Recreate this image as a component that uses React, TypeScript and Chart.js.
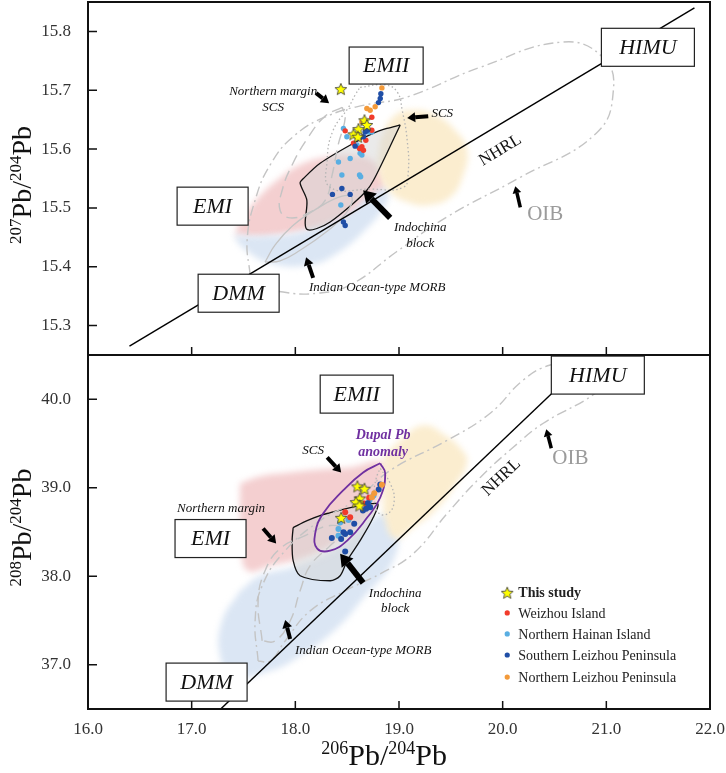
import React, { useEffect, useRef } from 'react';
import { Chart, registerables } from 'chart.js';

type Pt = [number, number];

// soft (blurred) fills for the source fields; registered before the Filler so it wraps the fill
const softFieldPlugin = {
  id: 'softFieldBlur',
  beforeDatasetDraw(chart: any, args: any) {
    const ds = chart.data.datasets[args.index];
    if (ds && ds.soft) { chart.ctx.save(); chart.ctx.filter = 'blur(3px)'; }
  },
  afterDatasetDraw(chart: any, args: any) {
    const ds = chart.data.datasets[args.index];
    if (ds && ds.soft) chart.ctx.restore();
  },
};
Chart.register(softFieldPlugin as any);
Chart.register(...registerables);

const SERIF = '"Liberation Serif", "Times New Roman", serif';

// ---------- axes ----------
const X_RANGE: Pt = [16, 22];
const X_TICKS = [16, 17, 18, 19, 20, 21, 22];
const TOP_Y_RANGE: Pt = [15.25, 15.85];
const TOP_Y_TICKS = [15.3, 15.4, 15.5, 15.6, 15.7, 15.8];
const BOTTOM_Y_RANGE: Pt = [36.5, 40.5];
const BOTTOM_Y_TICKS = [37, 38, 39, 40];

// ---------- series ----------
const SERIES_LABELS = ['This study', 'Weizhou Island', 'Northern Hainan Island', 'Southern Leizhou Peninsula', 'Northern Leizhou Peninsula'];
const SERIES_COLORS = ['#ffff00', '#f23b2b', '#59aee2', '#1f4ea6', '#f39a3a'];

// 206Pb/204Pb vs 207Pb/204Pb
const TOP_STARS: Pt[] = [[18.439, 15.702], [18.667, 15.649], [18.690, 15.641], [18.609, 15.634], [18.561, 15.625], [18.603, 15.621]];
const TOP_WEIZHOU: Pt[] = [[18.738, 15.654], [18.738, 15.632], [18.642, 15.604], [18.657, 15.598], [18.680, 15.615], [18.619, 15.601], [18.561, 15.610], [18.481, 15.631]];
const TOP_N_HAINAN: Pt[] = [[18.464, 15.635], [18.497, 15.621], [18.529, 15.584], [18.416, 15.578], [18.449, 15.556], [18.619, 15.556], [18.630, 15.553], [18.439, 15.505], [18.706, 15.629], [18.625, 15.593], [18.642, 15.590], [18.594, 15.607], [18.625, 15.601], [18.738, 15.629]];
const TOP_S_LEIZHOU: Pt[] = [[18.825, 15.694], [18.819, 15.686], [18.802, 15.679], [18.674, 15.629], [18.696, 15.632], [18.577, 15.605], [18.449, 15.533], [18.529, 15.523], [18.358, 15.523], [18.464, 15.476], [18.481, 15.470], [18.657, 15.621]];
const TOP_N_LEIZHOU: Pt[] = [[18.835, 15.704], [18.690, 15.669], [18.722, 15.666], [18.770, 15.672], [18.642, 15.646]];

const TOP_NHRL: Pt[] = [[16.40, 15.265], [21.85, 15.840]];
const TOP_PINK: Pt[] = [[17.419, 15.454], [17.467, 15.476], [17.641, 15.517], [17.853, 15.551], [18.046, 15.573], [18.288, 15.586], [18.529, 15.590], [18.741, 15.581], [18.847, 15.556], [18.847, 15.522], [18.722, 15.496], [18.336, 15.471], [17.950, 15.457], [17.612, 15.450]];
const TOP_BLUE: Pt[] = [[17.400, 15.454], [17.496, 15.432], [17.757, 15.406], [18.143, 15.403], [18.403, 15.423], [18.654, 15.459], [18.867, 15.505], [18.896, 15.534], [18.722, 15.522], [18.481, 15.488], [18.046, 15.459], [17.660, 15.452]];
const TOP_YELLOW: Pt[] = [[18.819, 15.615], [18.934, 15.653], [19.108, 15.666], [19.349, 15.658], [19.542, 15.632], [19.658, 15.598], [19.610, 15.551], [19.494, 15.518], [19.301, 15.505], [19.108, 15.508], [18.915, 15.527], [18.803, 15.564]];
const TOP_INDOCHINA: Pt[] = [[19.012, 15.641], [18.883, 15.593], [18.754, 15.547], [18.690, 15.530], [18.561, 15.508], [18.336, 15.476], [18.208, 15.465], [18.117, 15.463], [18.095, 15.474], [18.111, 15.513], [18.046, 15.542], [18.078, 15.550], [18.239, 15.576], [18.561, 15.610], [18.754, 15.627], [18.883, 15.635]];
const TOP_SCS: Pt[] = [[18.625, 15.705], [18.867, 15.709], [18.983, 15.697], [19.031, 15.666], [19.079, 15.615], [19.089, 15.561], [19.041, 15.535], [18.722, 15.532], [18.336, 15.535], [18.307, 15.581], [18.365, 15.632], [18.510, 15.670], [18.577, 15.692]];
const TOP_OIB: Pt[] = [[17.564, 15.386], [17.535, 15.445], [17.612, 15.513], [17.757, 15.573], [17.998, 15.624], [18.336, 15.658], [18.674, 15.675], [19.069, 15.688], [19.784, 15.739], [20.585, 15.782], [20.971, 15.755], [21.068, 15.700], [20.903, 15.627], [20.170, 15.552], [19.456, 15.484], [18.973, 15.425], [18.529, 15.369], [18.211, 15.355], [17.882, 15.357], [17.631, 15.370]];
const TOP_N_MARGIN: Pt[] = [[18.452, 15.671], [18.288, 15.656], [18.124, 15.620], [17.969, 15.573], [17.873, 15.530], [17.853, 15.496], [17.950, 15.483], [18.143, 15.493], [18.288, 15.513], [18.355, 15.556], [18.413, 15.607], [18.481, 15.653]];
const TOP_MORB_OUTLINE: Pt[] = [[17.708, 15.408], [17.805, 15.437], [17.969, 15.469], [18.220, 15.500], [18.452, 15.520], [18.548, 15.517], [18.490, 15.491], [18.297, 15.459], [18.046, 15.428], [17.853, 15.410]];

// 206Pb/204Pb vs 208Pb/204Pb
const BOT_STARS: Pt[] = [[18.599, 39.015], [18.667, 38.989], [18.621, 38.879], [18.584, 38.837], [18.618, 38.799], [18.442, 38.660]];
const BOT_WEIZHOU: Pt[] = [[18.481, 38.723], [18.712, 38.887], [18.529, 38.667], [18.664, 38.822]];
const BOT_N_HAINAN: Pt[] = [[18.416, 38.535], [18.513, 38.637], [18.715, 38.856], [18.754, 38.913], [18.416, 38.459], [18.432, 38.607]];
const BOT_S_LEIZHOU: Pt[] = [[18.819, 39.037], [18.804, 38.981], [18.722, 38.780], [18.683, 38.762], [18.700, 38.825], [18.568, 38.592], [18.529, 38.497], [18.481, 38.478], [18.442, 38.422], [18.352, 38.433], [18.481, 38.281], [18.652, 38.743], [18.464, 38.497]];
const BOT_N_LEIZHOU: Pt[] = [[18.835, 39.034], [18.761, 38.939], [18.738, 38.893]];

const BOT_NHRL: Pt[] = [[17.28, 36.5], [20.6, 40.205]];
const BOT_PINK: Pt[] = [[17.467, 39.049], [17.660, 39.128], [17.950, 39.173], [18.239, 39.207], [18.529, 39.230], [18.847, 39.287], [18.867, 39.083], [18.770, 38.799], [18.625, 38.573], [18.336, 38.346], [18.046, 38.198], [17.757, 38.119], [17.544, 38.062], [17.477, 38.289], [17.467, 38.743]];
const BOT_BLUE: Pt[] = [[17.467, 37.836], [17.660, 38.006], [18.017, 38.119], [18.432, 38.346], [18.847, 38.709], [18.983, 38.550], [18.944, 38.176], [18.674, 37.779], [18.403, 37.416], [18.046, 37.099], [17.757, 36.929], [17.400, 36.872], [17.274, 37.099], [17.293, 37.495]];
const BOT_YELLOW: Pt[] = [[18.847, 39.344], [19.012, 39.536], [19.234, 39.706], [19.446, 39.593], [19.610, 39.423], [19.658, 39.287], [19.542, 39.026], [19.349, 38.743], [19.137, 38.550], [18.963, 38.425], [18.867, 38.629], [18.847, 38.969]];
const BOT_INDOCHINA: Pt[] = [[17.979, 38.550], [18.114, 38.629], [18.307, 38.709], [18.789, 38.822], [18.751, 38.663], [18.625, 38.402], [18.500, 38.176], [18.432, 38.006], [18.336, 37.949], [18.046, 38.006], [17.979, 38.176], [17.969, 38.402]];
const BOT_DUPAL: Pt[] = [[18.819, 39.276], [18.867, 39.162], [18.819, 38.890], [18.693, 38.663], [18.500, 38.402], [18.336, 38.289], [18.211, 38.312], [18.191, 38.482], [18.268, 38.709], [18.461, 38.969], [18.654, 39.173]];
const BOT_SCS: Pt[] = [[18.819, 39.219], [18.915, 39.049], [18.954, 38.856], [18.896, 38.709], [18.799, 38.720], [18.761, 38.913], [18.780, 39.105]];
const BOT_OIB: Pt[] = [[17.641, 37.042], [17.612, 37.495], [17.680, 37.892], [17.902, 38.289], [18.239, 38.629], [18.577, 38.856], [18.915, 39.196], [19.465, 39.536], [19.880, 39.842], [20.199, 40.217], [20.459, 40.387], [20.797, 40.443], [21.087, 40.330], [20.894, 40.069], [20.392, 39.729], [20.102, 39.457], [19.784, 39.117], [19.465, 38.709], [19.137, 38.255], [18.819, 38.028], [18.481, 37.836], [18.143, 37.609], [17.902, 37.269], [17.757, 37.042]];
const BOT_N_MARGIN: Pt[] = [[17.680, 37.269], [17.641, 37.722], [17.708, 38.062], [17.853, 38.312], [18.095, 38.459], [18.336, 38.573], [18.481, 38.516], [18.336, 38.346], [18.143, 38.119], [18.046, 37.836], [17.950, 37.495], [17.805, 37.269]];

// ---------- annotations (data coordinates) ----------
type Box = { x: number; y: number; w: number; h: number; text: string };
type Label = { x: number; y: number; text: string; font: string; color?: string };
type Arrow = [number, number, number, number, number];
interface Spec {
  boxes: Box[]; labels: Label[]; arrows: Arrow[]; nhrl: Pt[]; nhrlLabel: Pt;
  yTicks: number[]; yTitle: [string, Pt]; xTitle?: [string, number]; legend?: boolean;
}
const IT = `italic 13px ${SERIF}`;
const OIB_FONT = `21px ${SERIF}`;
const DUPAL_FONT = `italic bold 14px ${SERIF}`;

const TOP_SPEC: Spec = {
  boxes: [
    { x: 18.876, y: 15.742, w: 74, h: 37, text: 'EMII' },
    { x: 21.401, y: 15.773, w: 93, h: 38, text: 'HIMU' },
    { x: 17.202, y: 15.503, w: 71, h: 38, text: 'EMI' },
    { x: 17.453, y: 15.355, w: 81, h: 38, text: 'DMM' },
  ],
  labels: [
    { x: 17.786, y: 15.697, text: 'Northern margin', font: IT },
    { x: 17.786, y: 15.671, text: 'SCS', font: IT },
    { x: 19.417, y: 15.660, text: 'SCS', font: IT },
    { x: 19.205, y: 15.466, text: 'Indochina', font: IT },
    { x: 19.205, y: 15.440, text: 'block', font: IT },
    { x: 18.790, y: 15.365, text: 'Indian Ocean-type MORB', font: IT },
    { x: 20.411, y: 15.488, text: 'OIB', font: OIB_FONT, color: '#9b9b9b' },
  ],
  arrows: [
    [18.201, 15.695, 18.326, 15.678, 4],
    [19.282, 15.656, 19.079, 15.653, 4],
    [18.915, 15.483, 18.654, 15.530, 6],
    [18.172, 15.381, 18.104, 15.416, 4],
    [20.170, 15.501, 20.122, 15.537, 3.5],
  ],
  nhrl: TOP_NHRL,
  nhrlLabel: [19.977, 15.598],
  yTicks: TOP_Y_TICKS,
  yTitle: ['207', [22, 15.539]],
};

const BOTTOM_SPEC: Spec = {
  boxes: [
    { x: 18.592, y: 40.058, w: 73, h: 38, text: 'EMII' },
    { x: 20.918, y: 40.273, w: 93, h: 38, text: 'HIMU' },
    { x: 17.182, y: 38.426, w: 71, h: 38, text: 'EMI' },
    { x: 17.144, y: 36.804, w: 81, h: 38, text: 'DMM' },
  ],
  labels: [
    { x: 18.172, y: 39.423, text: 'SCS', font: IT },
    { x: 18.847, y: 39.593, text: 'Dupal Pb', font: DUPAL_FONT, color: '#7030a0' },
    { x: 18.847, y: 39.400, text: 'anomaly', font: DUPAL_FONT, color: '#7030a0' },
    { x: 17.284, y: 38.765, text: 'Northern margin', font: IT },
    { x: 17.284, y: 38.595, text: 'SCS', font: IT },
    { x: 18.963, y: 37.802, text: 'Indochina', font: IT },
    { x: 18.963, y: 37.631, text: 'block', font: IT },
    { x: 18.654, y: 37.155, text: 'Indian Ocean-type MORB', font: IT },
    { x: 20.653, y: 39.332, text: 'OIB', font: OIB_FONT, color: '#9b9b9b' },
  ],
  arrows: [
    [18.307, 39.344, 18.442, 39.173, 4],
    [17.689, 38.539, 17.815, 38.369, 4],
    [18.654, 37.926, 18.432, 38.255, 6],
    [17.950, 37.291, 17.902, 37.507, 4],
    [20.469, 39.446, 20.421, 39.661, 3.5],
  ],
  nhrl: BOT_NHRL,
  nhrlLabel: [19.987, 39.117],
  yTicks: BOTTOM_Y_TICKS,
  yTitle: ['208', [22, 38.55]],
  xTitle: ['206', 18.857],
  legend: true,
};
const LEGEND_X: Pt = [20.044, 20.151];
const LEGEND_ROWS = [37.813, 37.586, 37.348, 37.110, 36.861];

// ---------- helpers ----------
const pts = (a: Pt[]) => a.map(([x, y]) => ({ x, y }));
const closed = (a: Pt[]) => pts([...a, a[0]]);

function makeStar(size: number) {
  const c = document.createElement('canvas');
  c.width = size; c.height = size;
  const g = c.getContext('2d')!;
  const R = size / 2 - 0.8, r = R * 0.45, m = size / 2;
  g.beginPath();
  for (let i = 0; i < 10; i++) {
    const rr = i % 2 === 0 ? R : r;
    const a = -Math.PI / 2 + (i * Math.PI) / 5;
    g.lineTo(m + rr * Math.cos(a), m + rr * Math.sin(a) + 0.5);
  }
  g.closePath();
  g.fillStyle = '#ffff00'; g.fill();
  g.strokeStyle = '#4a4a3a'; g.lineWidth = 0.9; g.stroke();
  return c;
}

function field(a: Pt[], color: string, order: number) {
  return { type: 'line', data: closed(a), fill: 'shape', backgroundColor: color, borderColor: 'rgba(0,0,0,0)', borderWidth: 0, pointRadius: 0, tension: 0.45, soft: true, order };
}
function outline(a: Pt[], color: string, dash: number[], width: number, order: number) {
  return { type: 'line', data: closed(a), fill: false, borderColor: color, borderWidth: width, borderDash: dash, pointRadius: 0, tension: 0.45, order };
}
function dots(a: Pt[], color: string, r: number, order: number) {
  return { type: 'scatter', data: pts(a), backgroundColor: color, borderWidth: 0, pointRadius: r, order };
}

interface PanelData {
  pink: Pt[]; blue: Pt[]; yellow: Pt[]; indochina: Pt[]; scs: Pt[]; oib: Pt[]; nMargin: Pt[];
  morbOutline?: Pt[]; dupal?: Pt[]; nhrl: Pt[];
  stars: Pt[]; weizhou: Pt[]; nHainan: Pt[]; sLeizhou: Pt[]; nLeizhou: Pt[];
}

function buildDatasets(p: PanelData, r: number, star: HTMLCanvasElement) {
  const ds: any[] = [
    field(p.pink, '#f4cfd0', 40),
    field(p.blue, '#dbe6f4', 39),
    field(p.yellow, '#fbedcf', 38),
    { type: 'line', data: closed(p.indochina), fill: 'shape', backgroundColor: 'rgba(214,214,214,0.5)', borderColor: '#111', borderWidth: 1.3, pointRadius: 0, tension: 0.3, order: 30 },
    outline(p.oib, '#c4c4c4', [10, 4, 2, 4], 1.4, 25),
    outline(p.nMargin, '#c4c4c4', [11, 6], 1.4, 24),
    outline(p.scs, '#b5b5b5', [1.5, 2.5], 1.3, 22),
    { type: 'line', data: pts(p.nhrl), fill: false, borderColor: '#000', borderWidth: 1.4, pointRadius: 0, order: 15 },
    dots(p.nHainan, SERIES_COLORS[2], r, 8),
    dots(p.weizhou, SERIES_COLORS[1], r, 7),
    dots(p.sLeizhou, SERIES_COLORS[3], r, 6),
    dots(p.nLeizhou, SERIES_COLORS[4], r, 5),
    { type: 'scatter', data: pts(p.stars), pointStyle: star, order: 1 },
  ];
  if (p.morbOutline) ds.push(outline(p.morbOutline, '#c4c4c4', [], 1.3, 23));
  if (p.dupal) ds.push(outline(p.dupal, '#7030a0', [], 1.8, 12));
  return ds;
}

function drawRatio(ctx: CanvasRenderingContext2D, cx: number, cy: number, rot: number, num: string, den: string, big: number, small: number) {
  const segs: [string, number, boolean][] = [[num, small, true], ['Pb', big, false], ['/', big, false], [den, small, true], ['Pb', big, false]];
  ctx.save();
  ctx.translate(cx, cy); ctx.rotate(rot);
  ctx.fillStyle = '#111'; ctx.textBaseline = 'alphabetic'; ctx.textAlign = 'left';
  const widths = segs.map(([t, s]) => { ctx.font = `${s}px ${SERIF}`; return ctx.measureText(t).width; });
  const total = widths.reduce((a, b) => a + b, 0);
  let xx = -total / 2;
  const base = big * 0.33;
  segs.forEach(([t, s, sup], i) => {
    ctx.font = `${s}px ${SERIF}`;
    ctx.fillText(t, xx, sup ? base - big * 0.36 : base);
    xx += widths[i];
  });
  ctx.restore();
}

function drawArrow(ctx: CanvasRenderingContext2D, x1: number, y1: number, x2: number, y2: number, w: number) {
  const ang = Math.atan2(y2 - y1, x2 - x1);
  const hl = w * 2.0, hw = w * 1.25;
  const bx = x2 - hl * Math.cos(ang), by = y2 - hl * Math.sin(ang);
  ctx.strokeStyle = '#000'; ctx.fillStyle = '#000'; ctx.lineWidth = w; ctx.lineCap = 'butt'; ctx.setLineDash([]);
  ctx.beginPath(); ctx.moveTo(x1, y1); ctx.lineTo(bx, by); ctx.stroke();
  ctx.beginPath();
  ctx.moveTo(x2, y2);
  ctx.lineTo(bx + hw * Math.sin(ang), by - hw * Math.cos(ang));
  ctx.lineTo(bx - hw * Math.sin(ang), by + hw * Math.cos(ang));
  ctx.closePath(); ctx.fill();
}

function decor(spec: Spec, star: HTMLCanvasElement) {
  return {
    id: 'decor',
    afterDatasetsDraw(chart: any) {
      const { ctx, scales: { x, y } } = chart;
      const px = (v: number) => x.getPixelForValue(v);
      const py = (v: number) => y.getPixelForValue(v);
      ctx.save();
      const [n1, n2] = spec.nhrl;
      const ang = Math.atan2(py(n2[1]) - py(n1[1]), px(n2[0]) - px(n1[0]));
      ctx.save();
      ctx.translate(px(spec.nhrlLabel[0]), py(spec.nhrlLabel[1])); ctx.rotate(ang);
      ctx.font = `17px ${SERIF}`; ctx.fillStyle = '#111'; ctx.textAlign = 'center'; ctx.textBaseline = 'middle';
      ctx.fillText('NHRL', 0, 0);
      ctx.restore();
      spec.arrows.forEach(([x1, y1, x2, y2, w]) => drawArrow(ctx, px(x1), py(y1), px(x2), py(y2), w));
      ctx.textAlign = 'center'; ctx.textBaseline = 'middle';
      spec.labels.forEach((l) => { ctx.font = l.font; ctx.fillStyle = l.color || '#111'; ctx.fillText(l.text, px(l.x), py(l.y)); });
      spec.boxes.forEach((b) => {
        const cx = px(b.x), cy = py(b.y);
        ctx.fillStyle = '#fff'; ctx.fillRect(cx - b.w / 2, cy - b.h / 2, b.w, b.h);
        ctx.strokeStyle = '#222'; ctx.lineWidth = 1.2; ctx.strokeRect(cx - b.w / 2, cy - b.h / 2, b.w, b.h);
        ctx.font = `italic 22px ${SERIF}`; ctx.fillStyle = '#111';
        ctx.fillText(b.text, cx, cy + 1);
      });
      if (spec.legend) {
        const mx = px(LEGEND_X[0]), tx = px(LEGEND_X[1]);
        LEGEND_ROWS.forEach((yv, i) => {
          const yy = py(yv);
          if (i === 0) ctx.drawImage(star, mx - star.width / 2, yy - star.height / 2);
          else { ctx.beginPath(); ctx.arc(mx, yy, 2.6, 0, Math.PI * 2); ctx.fillStyle = SERIES_COLORS[i]; ctx.fill(); }
          ctx.font = i === 0 ? `bold 14px ${SERIF}` : `14px ${SERIF}`;
          ctx.fillStyle = '#222'; ctx.textAlign = 'left'; ctx.textBaseline = 'middle';
          ctx.fillText(SERIES_LABELS[i], tx, yy + 1);
        });
      }
      ctx.restore();
    },
    afterDraw(chart: any) {
      const { ctx, chartArea: a, scales: { x, y } } = chart;
      ctx.save();
      ctx.strokeStyle = '#111'; ctx.lineWidth = 2; ctx.setLineDash([]);
      ctx.strokeRect(a.left, a.top, a.right - a.left, a.bottom - a.top);
      ctx.lineWidth = 1.5;
      ctx.beginPath();
      X_TICKS.forEach((v) => { const xx = x.getPixelForValue(v); ctx.moveTo(xx, a.bottom); ctx.lineTo(xx, a.bottom - 8); });
      spec.yTicks.forEach((v) => { const yy = y.getPixelForValue(v); ctx.moveTo(a.left, yy); ctx.lineTo(a.left + 9, yy); });
      ctx.stroke();
      const [num, [tx, tyv]] = spec.yTitle;
      drawRatio(ctx, tx, y.getPixelForValue(tyv), -Math.PI / 2, num, '204', 28, 17);
      if (spec.xTitle) drawRatio(ctx, x.getPixelForValue(spec.xTitle[1]), a.bottom + 46, 0, spec.xTitle[0], '204', 30, 18);
      ctx.restore();
    },
  };
}

const zeroPad = (s: any) => { s.paddingLeft = 0; s.paddingRight = 0; s.paddingTop = 0; s.paddingBottom = 0; };

function makeConfig(data: PanelData, spec: Spec, yRange: Pt, showX: boolean, xH: number, padTop: number, r: number, star: HTMLCanvasElement): any {
  const tickFont = { family: SERIF, size: 17 };
  return {
    type: 'scatter',
    data: { datasets: buildDatasets(data, r, star) },
    options: {
      responsive: false,
      animation: false,
      events: [],
      layout: { autoPadding: false, padding: { left: 0, right: 16, top: padTop, bottom: 0 } },
      plugins: { legend: { display: false }, tooltip: { enabled: false } },
      scales: {
        x: {
          type: 'linear', min: X_RANGE[0], max: X_RANGE[1],
          afterBuildTicks: (s: any) => { s.ticks = X_TICKS.map((v) => ({ value: v })); },
          afterFit: (s: any) => { s.height = xH; zeroPad(s); },
          grid: { display: false }, border: { display: false },
          ticks: { display: showX, font: tickFont, color: '#333', padding: 2, maxRotation: 0, autoSkip: false, callback: (v: any) => Number(v).toFixed(1) },
        },
        y: {
          type: 'linear', min: yRange[0], max: yRange[1],
          afterBuildTicks: (s: any) => { s.ticks = spec.yTicks.map((v) => ({ value: v })); },
          afterFit: (s: any) => { s.width = 88; zeroPad(s); },
          grid: { display: false }, border: { display: false },
          ticks: { font: tickFont, color: '#333', padding: 9, autoSkip: false, callback: (v: any) => Number(v).toFixed(1) },
        },
      },
    },
    plugins: [decor(spec, star)],
  };
}

const TOP_DATA: PanelData = {
  pink: TOP_PINK, blue: TOP_BLUE, yellow: TOP_YELLOW, indochina: TOP_INDOCHINA, scs: TOP_SCS, oib: TOP_OIB,
  nMargin: TOP_N_MARGIN, morbOutline: TOP_MORB_OUTLINE, nhrl: TOP_NHRL,
  stars: TOP_STARS, weizhou: TOP_WEIZHOU, nHainan: TOP_N_HAINAN, sLeizhou: TOP_S_LEIZHOU, nLeizhou: TOP_N_LEIZHOU,
};
const BOT_DATA: PanelData = {
  pink: BOT_PINK, blue: BOT_BLUE, yellow: BOT_YELLOW, indochina: BOT_INDOCHINA, scs: BOT_SCS, oib: BOT_OIB,
  nMargin: BOT_N_MARGIN, dupal: BOT_DUPAL, nhrl: BOT_NHRL,
  stars: BOT_STARS, weizhou: BOT_WEIZHOU, nHainan: BOT_N_HAINAN, sLeizhou: BOT_S_LEIZHOU, nLeizhou: BOT_N_LEIZHOU,
};

export default function App() {
  const topRef = useRef<HTMLCanvasElement>(null);
  const botRef = useRef<HTMLCanvasElement>(null);
  useEffect(() => {
    const star = makeStar(14);
    const c1 = new Chart(topRef.current!, makeConfig(TOP_DATA, TOP_SPEC, TOP_Y_RANGE, false, 5, 2, 2.7, star));
    const c2 = new Chart(botRef.current!, makeConfig(BOT_DATA, BOTTOM_SPEC, BOTTOM_Y_RANGE, true, 64, 5, 3.0, star));
    return () => { c1.destroy(); c2.destroy(); };
  }, []);
  return (
    <div style={{ position: 'absolute', left: 0, top: 0, width: 726, height: 773, background: '#fff', overflow: 'hidden' }}>
      <canvas ref={botRef} width={726} height={423} style={{ position: 'absolute', left: 0, top: 350, width: 726, height: 423 }} />
      <canvas ref={topRef} width={726} height={360} style={{ position: 'absolute', left: 0, top: 0, width: 726, height: 360 }} />
    </div>
  );
}
